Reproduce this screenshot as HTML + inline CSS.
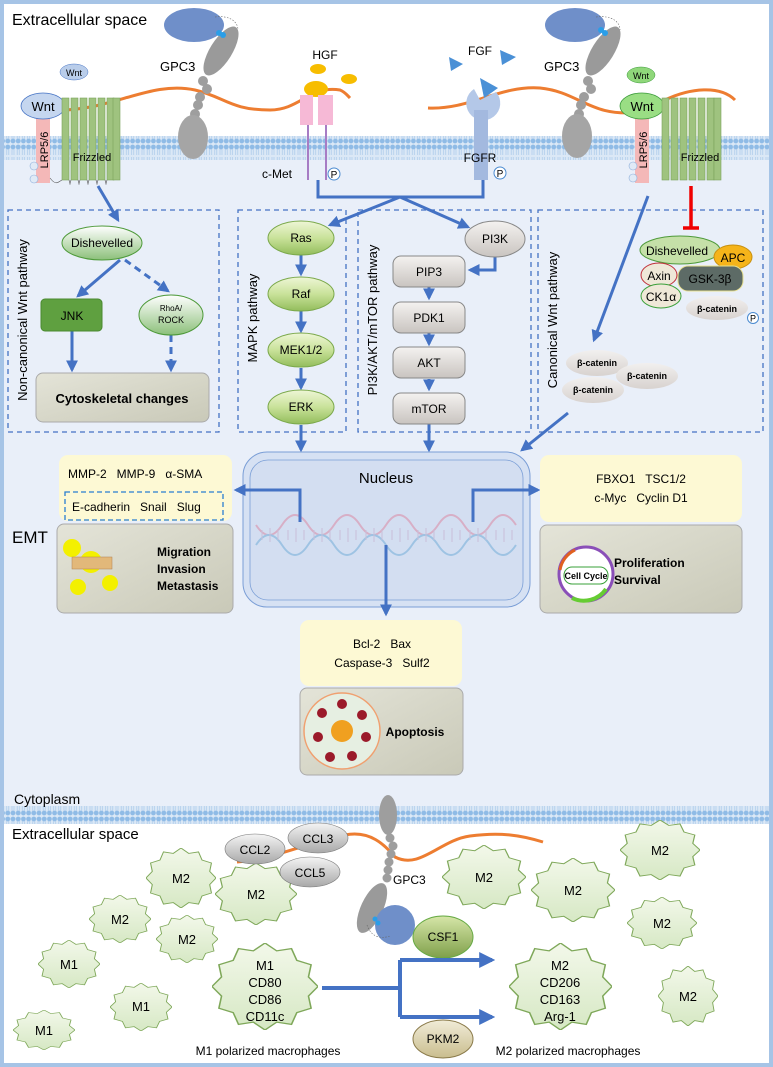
<!DOCTYPE html>
<html><head><meta charset="utf-8"><style>
html,body{margin:0;padding:0;background:#fff}
svg{display:block}
text{font-family:"Liberation Sans",sans-serif;white-space:pre}
</style></head><body>
<svg width="773" height="1067" viewBox="0 0 773 1067" xmlns="http://www.w3.org/2000/svg">
<defs>
<pattern id="mem" x="0" y="0" width="5.2" height="24" patternUnits="userSpaceOnUse">
<rect width="5.2" height="24" fill="#dbe8f6"/>
<circle cx="2.6" cy="3" r="2.4" fill="#8fbbe6"/>
<circle cx="2.6" cy="21" r="2.4" fill="#8fbbe6"/>
<path d="M1.6 5 L1.6 11 M3.6 5 L3.6 11 M1.6 13 L1.6 19 M3.6 13 L3.6 19" stroke="#a9c9ea" stroke-width="0.7"/>
</pattern>
<linearGradient id="gr" x1="0" y1="0" x2="0" y2="1"><stop offset="0" stop-color="#eef6d6"/><stop offset="0.5" stop-color="#c9e29a"/><stop offset="1" stop-color="#93bd5c"/></linearGradient>
<linearGradient id="wg" x1="0" y1="0" x2="0" y2="1"><stop offset="0" stop-color="#fff"/><stop offset="1" stop-color="#8cc07a"/></linearGradient>
<linearGradient id="gy" x1="0" y1="0" x2="0" y2="1"><stop offset="0" stop-color="#f4f2f0"/><stop offset="1" stop-color="#c9c4c0"/></linearGradient>
<linearGradient id="bc" x1="0" y1="0" x2="0" y2="1"><stop offset="0" stop-color="#f2f0ef"/><stop offset="1" stop-color="#d8d2cf"/></linearGradient>
<linearGradient id="gb" x1="0" y1="0" x2="1" y2="1"><stop offset="0" stop-color="#e4e4d8"/><stop offset="1" stop-color="#c9c9b8"/></linearGradient>
<linearGradient id="mg" x1="0" y1="0" x2="0" y2="1"><stop offset="0" stop-color="#f3f8ea"/><stop offset="1" stop-color="#d6e8c4"/></linearGradient>
<linearGradient id="csf" x1="0" y1="0" x2="0" y2="1"><stop offset="0" stop-color="#d6e6a8"/><stop offset="1" stop-color="#7fa04a"/></linearGradient>
<linearGradient id="pkm" x1="0" y1="0" x2="0" y2="1"><stop offset="0" stop-color="#f1ecd8"/><stop offset="1" stop-color="#c9bd8e"/></linearGradient>
<linearGradient id="ccl" x1="0" y1="0" x2="0" y2="1"><stop offset="0" stop-color="#f4f4f4"/><stop offset="1" stop-color="#a8a8a8"/></linearGradient>
<marker id="ar" viewBox="0 0 10 10" refX="8" refY="5" markerWidth="4" markerHeight="4" orient="auto"><path d="M0 0 L10 5 L0 10 z" fill="#4472c4"/></marker>
<symbol id="star" viewBox="-1 -1 2 2" preserveAspectRatio="none">
<polygon points="0,-1 0.22,-0.82 0.5,-0.87 0.6,-0.6 0.87,-0.5 0.82,-0.22 1,0 0.82,0.22 0.87,0.5 0.6,0.6 0.5,0.87 0.22,0.82 0,1 -0.22,0.82 -0.5,0.87 -0.6,0.6 -0.87,0.5 -0.82,0.22 -1,0 -0.82,-0.22 -0.87,-0.5 -0.6,-0.6 -0.5,-0.87 -0.22,-0.82" fill="url(#mg)" stroke="#7fa85a" stroke-width="0.03"/>
</symbol>
</defs>

<rect x="0" y="0" width="773" height="1067" fill="#fff"/>
<rect x="4" y="150" width="765" height="665" fill="#e9eff9"/>
<rect x="2" y="2" width="769" height="1063" fill="none" stroke="#a6c4e6" stroke-width="4"/>
<rect x="4" y="136" width="765" height="24" fill="url(#mem)"/>
<rect x="4" y="806" width="765" height="18" fill="url(#mem)"/>

<text x="12" y="25" font-size="16">Extracellular space</text>
<text x="14" y="804" font-size="14">Cytoplasm</text>
<text x="12" y="839" font-size="15">Extracellular space</text>

<path d="M55 110 C110 112 150 80 195 90 C225 97 230 110 270 110 C300 110 310 85 340 90 C345 92 347 95 350 98" fill="none" stroke="#ed7d31" stroke-width="3"/>
<path d="M428 108 C470 110 500 85 540 88 C580 92 590 118 640 112" fill="none" stroke="#ed7d31" stroke-width="3"/>
<path d="M665 100 C690 88 720 85 735 100" fill="none" stroke="#ed7d31" stroke-width="3"/>

<ellipse cx="74" cy="72" rx="14" ry="8" fill="#b9cdea" stroke="#4472c4" stroke-width="0.5"/>
<text x="74" y="76" font-size="9" text-anchor="middle">Wnt</text>
<rect x="36" y="116" width="14" height="67" fill="#f4b8b8"/>
<text transform="translate(48,150) rotate(-90)" font-size="11" text-anchor="middle">LRP5/6</text>
<ellipse cx="43" cy="106" rx="22" ry="13" fill="#c5d6ef" stroke="#4472c4" stroke-width="0.8"/>
<text x="43" y="111" font-size="13" text-anchor="middle">Wnt</text>
<circle cx="34" cy="166" r="4" fill="#e0eaf6" stroke="#8fb0dc" stroke-width="0.6"/>
<circle cx="34" cy="179" r="4" fill="#e0eaf6" stroke="#8fb0dc" stroke-width="0.6"/>
<g fill="#9fc37f" stroke="#7aa25a" stroke-width="0.6">
<rect x="62" y="98" width="7" height="82"/><rect x="71" y="98" width="7" height="82"/><rect x="80" y="98" width="7" height="82"/><rect x="89" y="98" width="7" height="82"/><rect x="98" y="98" width="7" height="82"/><rect x="107" y="98" width="7" height="82"/><rect x="113" y="98" width="7" height="82"/>
</g>
<path d="M50 178 C56 186 58 182 62 180 M69 180 c2 6 0 6 2 0 M78 180 c2 6 0 6 2 0 M87 180 c2 6 0 6 2 0 M96 180 c2 6 0 6 2 0 M105 180 c2 6 0 6 2 0" fill="none" stroke="#555" stroke-width="0.6"/>
<text x="92" y="161" font-size="11" text-anchor="middle">Frizzled</text>

<ellipse cx="194" cy="25" rx="30" ry="17" fill="#6f8fc9"/>
<path d="M215 17 C230 15 238 22 238 30" fill="none" stroke="#666" stroke-width="0.6" stroke-dasharray="1.5 1.5"/>
<ellipse cx="221" cy="51" rx="11" ry="28" transform="rotate(32 221 51)" fill="#9a9a9a"/>
<circle cx="219" cy="33" r="3" fill="#2a9ee8"/><circle cx="223" cy="35" r="3" fill="#2a9ee8"/>
<g fill="#9e9e9e"><circle cx="203" cy="81" r="5"/><circle cx="207" cy="89" r="5"/><circle cx="200" cy="97" r="5"/><circle cx="198" cy="105" r="5"/><circle cx="195" cy="114" r="5"/></g>
<ellipse cx="193" cy="137" rx="15" ry="22" fill="#a5a5a5"/>
<text x="160" y="71" font-size="13">GPC3</text>

<text x="325" y="59" font-size="12" text-anchor="middle">HGF</text>
<ellipse cx="318" cy="69" rx="8" ry="5" fill="#f7bd00"/>
<ellipse cx="349" cy="79" rx="8" ry="5" fill="#f7bd00"/>
<ellipse cx="316" cy="89" rx="12" ry="8" fill="#f7bd00"/>
<rect x="300" y="95" width="13" height="30" fill="#f6b9d6"/>
<rect x="318" y="95" width="15" height="30" fill="#f6b9d6"/>
<line x1="308" y1="125" x2="308" y2="180" stroke="#a77cc4" stroke-width="2"/>
<line x1="326" y1="125" x2="326" y2="180" stroke="#a77cc4" stroke-width="2"/>
<text x="262" y="178" font-size="12">c-Met</text>
<circle cx="334" cy="174" r="6" fill="#fff" stroke="#4a8ad0"/><text x="334" y="178" font-size="10" text-anchor="middle">P</text>

<text x="480" y="55" font-size="12" text-anchor="middle">FGF</text>
<polygon points="449,57 463,64 451,71" fill="#4a90d6"/>
<polygon points="500,50 516,57 502,65" fill="#4a90d6"/>
<polygon points="480,78 498,88 484,98" fill="#4a90d6"/>
<path d="M480 100 L496 92 A17 17 0 1 1 474 89 Z" fill="#b4c8e8"/>
<rect x="474" y="110" width="14" height="70" fill="#a3b9df"/>
<text x="480" y="162" font-size="12" text-anchor="middle">FGFR</text>
<circle cx="500" cy="173" r="6" fill="#fff" stroke="#4a8ad0"/><text x="500" y="177" font-size="10" text-anchor="middle">P</text>

<ellipse cx="575" cy="25" rx="30" ry="17" fill="#6f8fc9"/>
<path d="M596 17 C612 15 620 22 620 30" fill="none" stroke="#666" stroke-width="0.6" stroke-dasharray="1.5 1.5"/>
<ellipse cx="603" cy="51" rx="11" ry="28" transform="rotate(32 603 51)" fill="#9a9a9a"/>
<circle cx="601" cy="30" r="3" fill="#2a9ee8"/><circle cx="605" cy="33" r="3" fill="#2a9ee8"/>
<g fill="#9e9e9e"><circle cx="588" cy="81" r="5"/><circle cx="591" cy="89" r="5"/><circle cx="584" cy="97" r="5"/><circle cx="581" cy="105" r="5"/><circle cx="579" cy="114" r="5"/></g>
<ellipse cx="577" cy="136" rx="15" ry="22" fill="#a5a5a5"/>
<text x="544" y="71" font-size="13">GPC3</text>

<ellipse cx="641" cy="75" rx="14" ry="8" fill="#8fd77a" stroke="#3a9a3a" stroke-width="0.5"/>
<text x="641" y="79" font-size="9" text-anchor="middle">Wnt</text>
<rect x="635" y="117" width="14" height="66" fill="#f4b8b8"/>
<text transform="translate(647,150) rotate(-90)" font-size="11" text-anchor="middle">LRP5/6</text>
<ellipse cx="642" cy="106" rx="22" ry="13" fill="#9ade84" stroke="#3a9a3a" stroke-width="0.8"/>
<text x="642" y="111" font-size="13" text-anchor="middle">Wnt</text>
<circle cx="633" cy="166" r="4" fill="#e0eaf6" stroke="#8fb0dc" stroke-width="0.6"/>
<circle cx="633" cy="178" r="4" fill="#e0eaf6" stroke="#8fb0dc" stroke-width="0.6"/>
<g fill="#9fc37f" stroke="#7aa25a" stroke-width="0.6">
<rect x="662" y="98" width="7" height="82"/><rect x="671" y="98" width="7" height="82"/><rect x="680" y="98" width="7" height="82"/><rect x="689" y="98" width="7" height="82"/><rect x="698" y="98" width="7" height="82"/><rect x="707" y="98" width="7" height="82"/><rect x="714" y="98" width="7" height="82"/>
</g>
<text x="700" y="161" font-size="11" text-anchor="middle">Frizzled</text>

<g fill="none" stroke="#4472c4" stroke-width="1.3" stroke-dasharray="5 4">
<rect x="8" y="210" width="211" height="222"/>
<rect x="238" y="210" width="108" height="222"/>
<rect x="358" y="210" width="173" height="222"/>
<rect x="538" y="210" width="225" height="222"/>
</g>
<text transform="translate(27,320) rotate(-90)" font-size="13" text-anchor="middle">Non-canonical Wnt pathway</text>
<text transform="translate(257,318) rotate(-90)" font-size="13" text-anchor="middle">MAPK pathway</text>
<text transform="translate(377,320) rotate(-90)" font-size="13" text-anchor="middle">PI3K/AKT/mTOR pathway</text>
<text transform="translate(557,320) rotate(-90)" font-size="13" text-anchor="middle">Canonical Wnt pathway</text>

<g stroke="#4472c4" stroke-width="3" fill="none">
<path d="M98 186 L118 220" marker-end="url(#ar)"/>
<path d="M318 180 L318 197 L483 197 L483 180"/>
<path d="M400 197 L330 225" marker-end="url(#ar)"/>
<path d="M400 197 L468 227" marker-end="url(#ar)"/>
<path d="M120 260 L78 296" marker-end="url(#ar)"/>
<path d="M125 260 L168 291" stroke-dasharray="7 5" marker-end="url(#ar)"/>
<path d="M72 331 L72 370" marker-end="url(#ar)"/>
<path d="M171 335 L171 370" stroke-dasharray="7 5" marker-end="url(#ar)"/>
<path d="M301 255 L301 274" marker-end="url(#ar)"/>
<path d="M301 311 L301 331" marker-end="url(#ar)"/>
<path d="M301 368 L301 388" marker-end="url(#ar)"/>
<path d="M301 425 L301 450" marker-end="url(#ar)"/>
<path d="M495 257 L495 270 L470 270" marker-end="url(#ar)"/>
<path d="M429 287 L429 298" marker-end="url(#ar)"/>
<path d="M429 333 L429 344" marker-end="url(#ar)"/>
<path d="M429 379 L429 389" marker-end="url(#ar)"/>
<path d="M429 424 L429 450" marker-end="url(#ar)"/>
<path d="M648 196 L594 340" marker-end="url(#ar)"/>
<path d="M568 413 L522 450" marker-end="url(#ar)"/>
</g>
<path d="M691 186 L691 228 M683 228 L699 228" stroke="#f00000" stroke-width="3.5" fill="none"/>

<ellipse cx="102" cy="243" rx="40" ry="17" fill="url(#wg)" stroke="#4e9a3a"/>
<text x="102" y="247" font-size="12" text-anchor="middle">Dishevelled</text>
<rect x="41" y="299" width="61" height="32" rx="4" fill="#5fa040" stroke="#4a8a30"/>
<text x="72" y="320" font-size="12" text-anchor="middle">JNK</text>
<ellipse cx="171" cy="315" rx="32" ry="20" fill="url(#wg)" stroke="#4e9a3a"/>
<text x="171" y="311" font-size="8" text-anchor="middle">RhoA/</text>
<text x="171" y="323" font-size="9" text-anchor="middle">ROCK</text>
<rect x="36" y="373" width="173" height="49" rx="7" fill="url(#gb)" stroke="#aaa"/>
<text x="122" y="403" font-size="13" font-weight="bold" text-anchor="middle">Cytoskeletal changes</text>

<g stroke="#7aa84a" fill="url(#gr)">
<ellipse cx="301" cy="238" rx="33" ry="17"/><ellipse cx="301" cy="294" rx="33" ry="17"/><ellipse cx="301" cy="350" rx="33" ry="17"/><ellipse cx="301" cy="407" rx="33" ry="17"/>
</g>
<g font-size="12" text-anchor="middle"><text x="301" y="242">Ras</text><text x="301" y="298">Raf</text><text x="301" y="354">MEK1/2</text><text x="301" y="411">ERK</text></g>

<ellipse cx="495" cy="239" rx="30" ry="18" fill="url(#gy)" stroke="#888"/>
<text x="495" y="243" font-size="12" text-anchor="middle">PI3K</text>
<g fill="url(#gy)" stroke="#888">
<rect x="393" y="256" width="72" height="31" rx="8"/><rect x="393" y="302" width="72" height="31" rx="8"/><rect x="393" y="347" width="72" height="31" rx="8"/><rect x="393" y="393" width="72" height="31" rx="8"/>
</g>
<g font-size="12" text-anchor="middle"><text x="429" y="276">PIP3</text><text x="429" y="322">PDK1</text><text x="429" y="367">AKT</text><text x="429" y="413">mTOR</text></g>

<ellipse cx="680" cy="250" rx="40" ry="14" fill="#c5e0a8" stroke="#4e9a3a"/>
<text x="677" y="255" font-size="12" text-anchor="middle">Dishevelled</text>
<ellipse cx="733" cy="257" rx="19" ry="12" fill="#f5b41a" stroke="#c89010"/>
<text x="733" y="262" font-size="12" text-anchor="middle">APC</text>
<ellipse cx="659" cy="275" rx="18" ry="12" fill="#efe8d8" stroke="#c0303a"/>
<text x="659" y="280" font-size="12" text-anchor="middle">Axin</text>
<ellipse cx="661" cy="296" rx="20" ry="12" fill="#efe8d8" stroke="#3aa03a"/>
<text x="661" y="301" font-size="12" text-anchor="middle">CK1α</text>
<rect x="678" y="266" width="65" height="25" rx="10" fill="#5d6b66" stroke="#e8e090"/>
<text x="710" y="283" font-size="12" text-anchor="middle">GSK-3β</text>
<ellipse cx="717" cy="308" rx="31" ry="12" fill="url(#bc)"/>
<text x="717" y="312" font-size="9" font-weight="bold" text-anchor="middle">β-catenin</text>
<circle cx="753" cy="318" r="5.5" fill="#fff" stroke="#4a8ad0"/><text x="753" y="321.5" font-size="9" text-anchor="middle">P</text>
<ellipse cx="597" cy="363" rx="31" ry="13" fill="url(#bc)"/>
<ellipse cx="647" cy="376" rx="31" ry="13" fill="url(#bc)"/>
<ellipse cx="593" cy="390" rx="31" ry="13" fill="url(#bc)"/>
<g font-size="9" font-weight="bold" text-anchor="middle"><text x="597" y="366">β-catenin</text><text x="647" y="379">β-catenin</text><text x="593" y="393">β-catenin</text></g>

<rect x="243" y="452" width="287" height="155" rx="24" fill="#d6e1f3" stroke="#7a9ed6"/>
<rect x="250" y="460" width="273" height="140" rx="18" fill="#d3def1" stroke="#7a9ed6" stroke-width="0.8"/>
<text x="386" y="483" font-size="15" text-anchor="middle">Nucleus</text>
<g fill="none" stroke-width="2" opacity="0.8">
<path d="M256 525 Q269 545 282 525 T308 525 T334 525 T360 525 T386 525 T412 525 T438 525 T464 525 T490 525 T516 525" stroke="#d9a4bc"/>
<path d="M256 545 Q269 525 282 545 T308 545 T334 545 T360 545 T386 545 T412 545 T438 545 T464 545 T490 545 T516 545" stroke="#92bde0"/>
<path d="M262 530 v10 M270 528 v14 M278 530 v10 M288 530 v10 M296 528 v14 M304 530 v10 M314 530 v10 M322 528 v14 M330 530 v10 M340 530 v10 M348 528 v14 M356 530 v10 M366 530 v10 M374 528 v14 M382 530 v10 M392 530 v10 M400 528 v14 M408 530 v10 M418 530 v10 M426 528 v14 M434 530 v10 M444 530 v10 M452 528 v14 M460 530 v10 M470 530 v10 M478 528 v14 M486 530 v10 M496 530 v10 M504 528 v14 M512 530 v10" stroke="#c8b8d4" stroke-width="1"/>
</g>
<g stroke="#4472c4" stroke-width="3" fill="none">
<path d="M300 522 L300 490 L236 490" marker-end="url(#ar)"/>
<path d="M473 522 L473 490 L538 490" marker-end="url(#ar)"/>
<path d="M386 545 L386 614" marker-end="url(#ar)"/>
</g>

<text x="12" y="543" font-size="17">EMT</text>
<rect x="59" y="455" width="173" height="66" rx="9" fill="#fdf9d4"/>
<text x="68" y="478" font-size="12">MMP-2   MMP-9   α-SMA</text>
<rect x="65" y="492" width="158" height="28" fill="none" stroke="#2a7ed0" stroke-width="1.3" stroke-dasharray="5 3"/>
<text x="72" y="511" font-size="12">E-cadherin   Snail   Slug</text>
<rect x="57" y="524" width="176" height="89" rx="7" fill="url(#gb)" stroke="#aaa"/>
<g fill="#f3f000"><circle cx="72" cy="548" r="9"/><circle cx="91" cy="562" r="11"/><circle cx="78" cy="587" r="8"/><circle cx="110" cy="583" r="8"/></g>
<rect x="72" y="557" width="40" height="12" fill="#e2b87a" stroke="#b08050" stroke-width="0.5"/>
<text x="157" y="556" font-size="12" font-weight="bold">Migration</text>
<text x="157" y="573" font-size="12" font-weight="bold">Invasion</text>
<text x="157" y="590" font-size="12" font-weight="bold">Metastasis</text>

<rect x="540" y="455" width="202" height="67" rx="9" fill="#fdf9d4"/>
<text x="641" y="483" font-size="12" text-anchor="middle">FBXO1   TSC1/2</text>
<text x="641" y="502" font-size="12" text-anchor="middle">c-Myc   Cyclin D1</text>
<rect x="540" y="525" width="202" height="88" rx="7" fill="url(#gb)" stroke="#aaa"/>
<circle cx="586" cy="574" r="27" fill="#fff" stroke="#8a4fb8" stroke-width="3"/>
<path d="M606 589 A27 27 0 0 1 572 598" fill="none" stroke="#66cc33" stroke-width="4"/>
<path d="M560 570 A27 27 0 0 1 575 550" fill="none" stroke="#e06020" stroke-width="3"/>
<rect x="564" y="567" width="44" height="17" rx="8" fill="#fff" stroke="#3aa03a"/>
<text x="586" y="579" font-size="9" font-weight="bold" text-anchor="middle">Cell Cycle</text>
<text x="614" y="567" font-size="12" font-weight="bold">Proliferation</text>
<text x="614" y="584" font-size="12" font-weight="bold">Survival</text>

<rect x="300" y="620" width="162" height="66" rx="9" fill="#fdf9d4"/>
<text x="382" y="648" font-size="12" text-anchor="middle">Bcl-2   Bax</text>
<text x="382" y="667" font-size="12" text-anchor="middle">Caspase-3   Sulf2</text>
<rect x="300" y="688" width="163" height="87" rx="7" fill="url(#gb)" stroke="#aaa"/>
<circle cx="342" cy="731" r="38" fill="#e6efe2" stroke="#f0a070" stroke-width="1.5"/>
<circle cx="342" cy="731" r="11" fill="#f0a020"/>
<g fill="#9b1a2a"><circle cx="342" cy="704" r="5"/><circle cx="362" cy="715" r="5"/><circle cx="366" cy="737" r="5"/><circle cx="352" cy="756" r="5"/><circle cx="330" cy="757" r="5"/><circle cx="318" cy="737" r="5"/><circle cx="322" cy="713" r="5"/></g>
<text x="415" y="736" font-size="12" font-weight="bold" text-anchor="middle">Apoptosis</text>

<!-- bottom orange -->
<path d="M237 862 C270 860 300 845 345 835 C370 830 385 845 395 857 C420 870 440 840 470 836 C500 832 520 835 543 842" fill="none" stroke="#ed7d31" stroke-width="3"/>

<!-- macrophages -->
<use href="#star" x="146" y="848" width="70" height="60"/>
<use href="#star" x="215" y="863" width="82" height="62"/>
<use href="#star" x="89" y="895" width="62" height="48"/>
<use href="#star" x="156" y="915" width="62" height="48"/>
<use href="#star" x="38" y="940" width="62" height="48"/>
<use href="#star" x="110" y="983" width="62" height="48"/>
<use href="#star" x="13" y="1010" width="62" height="40"/>
<use href="#star" x="212" y="943" width="106" height="87"/>
<use href="#star" x="442" y="845" width="84" height="64"/>
<use href="#star" x="531" y="858" width="84" height="64"/>
<use href="#star" x="620" y="820" width="80" height="60"/>
<use href="#star" x="627" y="897" width="70" height="52"/>
<use href="#star" x="658" y="966" width="60" height="60"/>
<use href="#star" x="509" y="943" width="103" height="87"/>
<g font-size="13" text-anchor="middle">
<text x="181" y="883">M2</text><text x="256" y="899">M2</text><text x="120" y="924">M2</text><text x="187" y="944">M2</text>
<text x="69" y="969">M1</text><text x="141" y="1011">M1</text><text x="44" y="1035">M1</text>
<text x="265" y="970">M1</text><text x="265" y="987">CD80</text><text x="265" y="1004">CD86</text><text x="265" y="1021">CD11c</text>
<text x="484" y="882">M2</text><text x="573" y="895">M2</text><text x="660" y="855">M2</text><text x="662" y="928">M2</text><text x="688" y="1001">M2</text>
<text x="560" y="970">M2</text><text x="560" y="987">CD206</text><text x="560" y="1004">CD163</text><text x="560" y="1021">Arg-1</text>
<text x="268" y="1055" font-size="12">M1 polarized macrophages</text>
<text x="568" y="1055" font-size="12">M2 polarized macrophages</text>
</g>

<!-- CCLs -->
<ellipse cx="255" cy="849" rx="30" ry="15" fill="url(#ccl)" stroke="#777" stroke-width="0.6"/>
<ellipse cx="318" cy="838" rx="30" ry="15" fill="url(#ccl)" stroke="#777" stroke-width="0.6"/>
<ellipse cx="310" cy="872" rx="30" ry="15" fill="url(#ccl)" stroke="#777" stroke-width="0.6"/>
<g font-size="12" text-anchor="middle"><text x="255" y="854">CCL2</text><text x="318" y="843">CCL3</text><text x="310" y="877">CCL5</text></g>

<!-- GPC3 bottom -->
<ellipse cx="388" cy="815" rx="9" ry="20" fill="#9e9e9e"/>
<g fill="#9e9e9e"><circle cx="390" cy="838" r="4.5"/><circle cx="393" cy="846" r="4.5"/><circle cx="391" cy="854" r="4.5"/><circle cx="389" cy="862" r="4.5"/><circle cx="388" cy="870" r="4.5"/><circle cx="387" cy="878" r="4.5"/></g>
<ellipse cx="372" cy="908" rx="11" ry="27" transform="rotate(25 372 908)" fill="#9a9a9a"/>
<circle cx="395" cy="925" r="20" fill="#6f8fc9"/>
<circle cx="375" cy="919" r="2.5" fill="#2a9ee8"/><circle cx="378" cy="923" r="2.5" fill="#2a9ee8"/>
<path d="M367 925 C372 940 385 938 390 936" fill="none" stroke="#666" stroke-width="0.6" stroke-dasharray="1.5 1.5"/>
<text x="393" y="884" font-size="12">GPC3</text>

<ellipse cx="443" cy="937" rx="30" ry="21" fill="url(#csf)" stroke="#66aa44"/>
<text x="443" y="941" font-size="12" text-anchor="middle">CSF1</text>
<ellipse cx="443" cy="1039" rx="30" ry="19" fill="url(#pkm)" stroke="#8a7a4a"/>
<text x="443" y="1043" font-size="12" text-anchor="middle">PKM2</text>

<g stroke="#4472c4" stroke-width="4" fill="none">
<path d="M322 988 L400 988"/>
<path d="M400 960 L400 1017"/>
<path d="M400 960 L492 960" marker-end="url(#ar)"/>
<path d="M400 1017 L492 1017" marker-end="url(#ar)"/>
</g>
</svg>
</body></html>
